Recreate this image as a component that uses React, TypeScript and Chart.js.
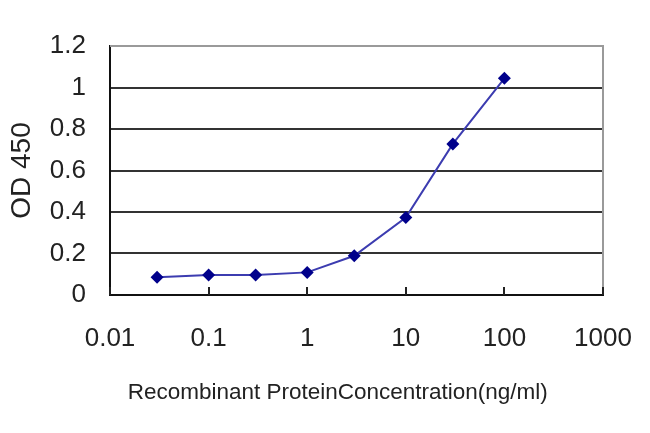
import React, { useEffect, useRef } from "react";
import { Chart, registerables } from "chart.js";

Chart.register(...registerables);

const concentrations = [0.03, 0.1, 0.3, 1, 3, 10, 30, 100];
const od450 = [0.085, 0.096, 0.096, 0.109, 0.189, 0.373, 0.728, 1.044];
const xTickValues = [0.01, 0.1, 1, 10, 100, 1000];
const xTickLabels = ["0.01", "0.1", "1", "10", "100", "1000"];
const yTickValues = [0, 0.2, 0.4, 0.6, 0.8, 1, 1.2];
const yTickLabels = ["0", "0.2", "0.4", "0.6", "0.8", "1", "1.2"];

const FONT = "'Liberation Sans', Arial, sans-serif";
const TEXT_COLOR = "#222222";

const framePlugin = {
  id: "frame",
  afterDatasetsDraw(chart: any) {
    const { ctx, chartArea } = chart;
    const xs = chart.scales.x;
    ctx.save();
    ctx.strokeStyle = "#9a9a9a";
    ctx.lineWidth = 2;
    ctx.beginPath();
    ctx.moveTo(chartArea.left, chartArea.top);
    ctx.lineTo(chartArea.right, chartArea.top);
    ctx.lineTo(chartArea.right, chartArea.bottom);
    ctx.stroke();
    ctx.strokeStyle = "#222222";
    ctx.lineWidth = 2;
    xTickValues.forEach((v) => {
      const px = Math.round(xs.getPixelForValue(v));
      ctx.beginPath();
      ctx.moveTo(px, chartArea.bottom);
      ctx.lineTo(px, chartArea.bottom - 8);
      ctx.stroke();
    });
    ctx.restore();
  },
};

export default function App() {
  const canvasRef = useRef<HTMLCanvasElement | null>(null);

  useEffect(() => {
    document.body.style.margin = "0";
    const canvas = canvasRef.current;
    if (!canvas) return;
    const chart = new Chart(canvas, {
      type: "line",
      data: {
        datasets: [
          {
            label: "OD 450",
            data: concentrations.map((c, i) => ({ x: c, y: od450[i] })),
            borderColor: "#3c3cb0",
            borderWidth: 2,
            backgroundColor: "#00008b",
            pointBackgroundColor: "#00008b",
            pointBorderColor: "#00008b",
            pointStyle: "rectRot",
            pointRadius: 6.5,
            pointBorderWidth: 0,
            tension: 0,
          },
        ],
      },
      options: {
        animation: false,
        responsive: false,
        devicePixelRatio: 1,
        layout: { padding: { top: 46, right: 47, left: 0, bottom: 0 } },
        plugins: {
          legend: { display: false },
          tooltip: { enabled: false },
        },
        scales: {
          x: {
            type: "logarithmic",
            min: 0.01,
            max: 1000,
            afterBuildTicks: (scale: any) => {
              scale.ticks = xTickValues.map((v) => ({ value: v }));
            },
            afterFit: (scale: any) => {
              scale.height = 138;
            },
            grid: {
              display: true,
              drawOnChartArea: false,
              drawTicks: true,
              tickLength: 28,
              tickColor: "rgba(0,0,0,0)",
              color: "rgba(0,0,0,0)",
            },
            border: { display: true, color: "#111111", width: 2 },
            ticks: {
              autoSkip: false,
              maxRotation: 0,
              padding: 0,
              color: TEXT_COLOR,
              font: { family: FONT, size: 26 },
              callback: (value: any) => {
                const i = xTickValues.findIndex((v) => Math.abs(v - Number(value)) < 1e-9);
                return i >= 0 ? xTickLabels[i] : "";
              },
            },
            title: {
              display: true,
              text: "Recombinant ProteinConcentration(ng/ml)      ",
              color: TEXT_COLOR,
              font: { family: FONT, size: 22.5 },
              padding: { top: 0, bottom: 27 },
            },
          },
          y: {
            type: "linear",
            min: 0,
            max: 1.2,
            afterBuildTicks: (scale: any) => {
              scale.ticks = yTickValues.map((v) => ({ value: v }));
            },
            afterFit: (scale: any) => {
              scale.width = 110;
            },
            grid: {
              drawTicks: false,
              lineWidth: 2,
              color: (ctx: any) =>
                ctx.tick && Math.abs(ctx.tick.value - 1.2) < 1e-9 ? "#9a9a9a" : "#333333",
            },
            border: { display: true, color: "#111111", width: 2 },
            ticks: {
              padding: 24,
              color: TEXT_COLOR,
              font: { family: FONT, size: 26 },
              callback: (value: any) => {
                const i = yTickValues.findIndex((v) => Math.abs(v - Number(value)) < 1e-9);
                return i >= 0 ? yTickLabels[i] : "";
              },
            },
            title: {
              display: true,
              text: "OD 450",
              color: TEXT_COLOR,
              font: { family: FONT, size: 28 },
              padding: { top: 5, bottom: 0 },
            },
          },
        },
      },
      plugins: [framePlugin],
    });
    return () => chart.destroy();
  }, []);

  return (
    <div style={{ width: 650, height: 433, background: "#ffffff" }}>
      <canvas ref={canvasRef} width={650} height={433} style={{ display: "block" }} />
    </div>
  );
}
